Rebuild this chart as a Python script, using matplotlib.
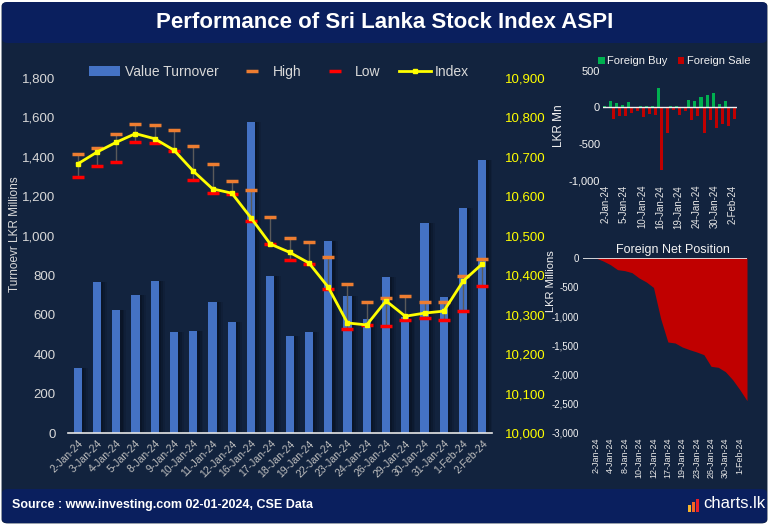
import matplotlib.pyplot as plt
import numpy as np
from matplotlib.patches import FancyBboxPatch, Rectangle
from matplotlib.lines import Line2D
from matplotlib.ticker import FuncFormatter

# ---- data ----
dates = ['2-Jan-24', '3-Jan-24', '4-Jan-24', '5-Jan-24', '8-Jan-24', '9-Jan-24',
         '10-Jan-24', '11-Jan-24', '12-Jan-24', '16-Jan-24', '17-Jan-24', '18-Jan-24',
         '19-Jan-24', '22-Jan-24', '23-Jan-24', '24-Jan-24', '26-Jan-24', '29-Jan-24',
         '30-Jan-24', '31-Jan-24', '1-Feb-24', '2-Feb-24']
turnover = [330, 768, 624, 700, 771, 513, 518, 665, 563, 1579, 797, 492,
            513, 975, 695, 579, 792, 589, 1066, 690, 1142, 1386]
index_close = [10682, 10712, 10737, 10759, 10746, 10717, 10664, 10619, 10608, 10545, 10479,
               10458, 10431, 10370, 10279, 10274, 10335, 10296, 10304, 10309, 10385, 10429]
index_high = [10708, 10723, 10759, 10784, 10782, 10769, 10728, 10683, 10640, 10616, 10548,
              10495, 10483, 10447, 10379, 10333, 10341, 10348, 10333, 10333, 10399, 10442]
index_low = [10650, 10677, 10687, 10738, 10736, 10716, 10641, 10608, 10606, 10538, 10480,
             10439, 10429, 10366, 10264, 10274, 10271, 10287, 10292, 10287, 10310, 10373]
foreign_buy = [15, 87, 60, 32, 73, 5, 15, 15, 15, 262, 5,
               15, 15, 5, 101, 87, 142, 170, 197, 46, 87, 9]
foreign_sale = [0, -156, -119, -119, -73, -50, -128, -92, -101, -863, -353,
                -37, -101, -50, -174, -119, -353, -174, -284, -225, -257, -156]
net_position = [0, -51, -114, -200, -217, -251, -343, -411, -505, -1040, -1440,
                -1457, -1526, -1571, -1611, -1657, -1857, -1874, -1949, -2086, -2257, -2446]

BG = '#12233e'
NAVY = '#0a1f5e'
TXT = '#d9d9d9'
NARROW = ['Liberation Sans Narrow', 'Liberation Sans', 'DejaVu Sans']
plt.rcParams['font.family'] = ['Liberation Sans', 'DejaVu Sans']

W, H = 769, 525
fig = plt.figure(figsize=(W / 100, H / 100), dpi=100, facecolor='white')


def box(l, t, r, b):  # pixel box -> figure rect
    return [l / W, 1 - b / H, (r - l) / W, (b - t) / H]


def comma(v, pos):
    return f'{v:,.0f}'


# background panels
fig.add_artist(FancyBboxPatch((0.002, 0.003), 0.996, 0.993, boxstyle='round,pad=0,rounding_size=0.008',
                              transform=fig.transFigure, fc=BG, ec='none', zorder=0))
fig.add_artist(FancyBboxPatch((2 / W, 1 - 43 / H), 765 / W, 41 / H, boxstyle='round,pad=0,rounding_size=0.008',
                              transform=fig.transFigure, fc=NAVY, ec='none', zorder=0))
fig.add_artist(FancyBboxPatch((2 / W, 2 / H), 765 / W, 34 / H, boxstyle='round,pad=0,rounding_size=0.008',
                              transform=fig.transFigure, fc=NAVY, ec='none', zorder=0))
fig.text(0.5, 1 - 22 / H, 'Performance of Sri Lanka Stock Index ASPI', ha='center', va='center',
         color='white', fontsize=16, fontweight='bold', family=NARROW)
fig.text(12 / W, 1 - 505 / H, 'Source : www.investing.com 02-01-2024, CSE Data', ha='left', va='center',
         color='white', fontsize=9, fontweight='bold', family=NARROW)
fig.text(765 / W, 1 - 504 / H, 'charts.lk', ha='right', va='center',
         color='white', fontsize=12, family=NARROW)
for k, c in enumerate(['#f7b32b', '#f26522', '#e8202a']):
    fig.add_artist(Rectangle(((688 + 4 * k) / W, 1 - 512 / H), 3 / W, (7 + 3 * k) / H,
                             transform=fig.transFigure, fc=c, ec='none'))

x = np.arange(len(dates))

# ---- main chart ----
ax = fig.add_axes(box(68, 78, 492, 433))
ax.set_facecolor('none')
for off, a in [(0.12, 0.35), (0.22, 0.25), (0.32, 0.15)]:
    ax.bar(x + off, turnover, 0.42, color='#060d1a', alpha=a, zorder=1)
bars = ax.bar(x, turnover, 0.42, color='#4472c4', zorder=2, label='Value Turnover')
ax.set_xlim(-0.5, 21.5)
ax.set_ylim(0, 1800)
ax.set_yticks(range(0, 1801, 200))
ax.yaxis.set_major_formatter(FuncFormatter(comma))
ax.set_xticks(x)
ax.set_xticklabels(dates, rotation=45, ha='right', rotation_mode='anchor', fontsize=7.5, color='#bfbfbf')
ax.tick_params(axis='y', length=0, pad=9, labelsize=9.5, labelcolor=TXT)
ax.tick_params(axis='x', length=0, pad=4)
for s in ['top', 'right', 'left']:
    ax.spines[s].set_visible(False)
ax.spines['bottom'].set_color('#e6e6e6')
ax.spines['bottom'].set_linewidth(1.2)
ax.set_ylabel('Turnoevr LKR Millions', fontsize=8.5, color=TXT)
ax.yaxis.set_label_coords(-0.112, 0.56)

ax2 = ax.twinx()
ax2.set_ylim(10000, 10900)
ax2.set_yticks(range(10000, 10901, 100))
ax2.yaxis.set_major_formatter(FuncFormatter(comma))
ax2.tick_params(axis='y', length=0, pad=9, labelsize=9.5, labelcolor='#ffff00')
for s in ax2.spines.values():
    s.set_visible(False)
ax2.vlines(x, index_low, index_high, color='#5a5a5a', lw=1, zorder=3)
ax2.plot(x, index_high, ls='none', marker='_', ms=8, mew=2.5, color='#ed7d31', zorder=4)
ax2.plot(x, index_low, ls='none', marker='_', ms=8, mew=2.5, color='#ff0000', zorder=4)
ax2.plot(x, index_close, color='#ffff00', lw=2, marker='s', ms=3.5, zorder=5)

handles = [bars,
           Line2D([], [], ls='none', marker='_', ms=8, mew=2.5, color='#ed7d31'),
           Line2D([], [], ls='none', marker='_', ms=8, mew=2.5, color='#ff0000'),
           Line2D([], [], color='#ffff00', lw=2, marker='s', ms=3.5, markevery=[0])]
fig.legend(handles, ['Value Turnover', 'High', 'Low', 'Index'], loc='center left',
           bbox_to_anchor=(76 / W, 1 - 72 / H), ncol=4, frameon=False, fontsize=10,
           labelcolor=TXT, handlelength=2.3, handletextpad=0.3, columnspacing=1.3)

# ---- foreign buy / sale ----
axf = fig.add_axes(box(603, 71, 737, 180))
axf.set_facecolor('none')
axf.bar(x - 0.25, foreign_buy, 0.5, color='#00b050', label='Foreign Buy')
axf.bar(x + 0.25, foreign_sale, 0.5, color='#c00000', label='Foreign Sale')
axf.axhline(0, color='#f2f2f2', lw=1)
axf.set_xlim(-0.45, 21.7)
axf.set_ylim(-1000, 500)
axf.set_yticks([-1000, -500, 0, 500])
axf.yaxis.set_major_formatter(FuncFormatter(comma))
axf.set_xticks(x[::3])
axf.set_xticklabels(dates[::3], rotation=90, fontsize=7, color='#e6e6e6', family=NARROW)
axf.tick_params(length=0)
axf.tick_params(axis='y', labelsize=8, labelcolor='#f2f2f2', pad=2)
for s in axf.spines.values():
    s.set_visible(False)
axf.set_ylabel('LKR Mn', fontsize=8.5, color='#f2f2f2', family=NARROW)
axf.yaxis.set_label_coords(-0.28, 0.5)
fig.legend(*axf.get_legend_handles_labels(), loc='center left', bbox_to_anchor=(588 / W, 1 - 61 / H),
           ncol=2, frameon=False, labelcolor='#f2f2f2', handlelength=0.6, handleheight=0.6,
           handletextpad=0.25, columnspacing=0.9, prop={'family': NARROW, 'size': 8})

# ---- foreign net position ----
axn = fig.add_axes(box(583, 258, 747, 433))
axn.set_facecolor('none')
axn.fill_between(x, net_position, 0, color='#c00000', lw=0)
axn.axhline(0, color='#f2f2f2', lw=1.2)
axn.set_xlim(-1.8, 21.0)
axn.set_ylim(-3000, 0)
axn.set_yticks(range(-3000, 1, 500))
axn.yaxis.set_major_formatter(FuncFormatter(comma))
axn.set_xticks(x[::2])
axn.set_xticklabels(dates[::2], rotation=90, fontsize=6.5, color='#e6e6e6', family=NARROW)
axn.tick_params(length=0)
axn.tick_params(axis='y', labelsize=7, labelcolor='#f2f2f2', pad=3)
for s in axn.spines.values():
    s.set_visible(False)
axn.set_ylabel('LKR Millions', fontsize=8, color='#f2f2f2', family=NARROW)
axn.yaxis.set_label_coords(-0.165, 0.87)
fig.text(673 / W, 1 - 250 / H, 'Foreign Net Position', ha='center', va='center',
         fontsize=9, color='#f2f2f2', family=NARROW)

fig.savefig('out.png', dpi=100, facecolor='white')
